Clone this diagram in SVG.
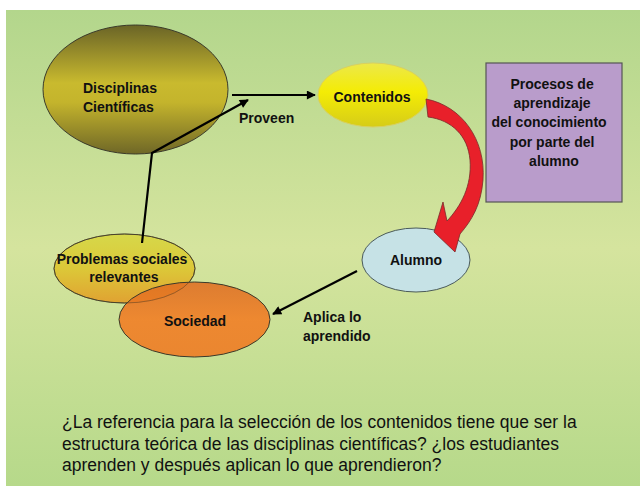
<svg xmlns="http://www.w3.org/2000/svg" width="640" height="486" viewBox="0 0 640 486">
  <defs>
    <linearGradient id="bg" x1="0" y1="0" x2="0" y2="1">
      <stop offset="0" stop-color="#b3d68c"/>
      <stop offset="0.5" stop-color="#d5e49e"/>
      <stop offset="1" stop-color="#b6d98a"/>
    </linearGradient>
    <linearGradient id="gDisc" x1="0" y1="0" x2="0" y2="1">
      <stop offset="0" stop-color="#6a6427"/>
      <stop offset="0.45" stop-color="#c9ba2e"/>
      <stop offset="0.6" stop-color="#c4b42c"/>
      <stop offset="1" stop-color="#6f6727"/>
    </linearGradient>
    <linearGradient id="gCont" x1="0" y1="0" x2="0" y2="1">
      <stop offset="0" stop-color="#ece84a"/>
      <stop offset="0.45" stop-color="#f4ec05"/>
      <stop offset="1" stop-color="#d6cc18"/>
    </linearGradient>
    <linearGradient id="gProb" x1="0" y1="0" x2="0" y2="1">
      <stop offset="0" stop-color="#d6d84a"/>
      <stop offset="0.5" stop-color="#dcc838"/>
      <stop offset="1" stop-color="#e0a232"/>
    </linearGradient>
    <linearGradient id="gSoc" x1="0" y1="0" x2="0" y2="1">
      <stop offset="0" stop-color="#de6e22"/>
      <stop offset="0.5" stop-color="#f27c22"/>
      <stop offset="1" stop-color="#ef7a22"/>
    </linearGradient>
    <marker id="ah" viewBox="0 0 10 10" refX="9" refY="5" markerWidth="11" markerHeight="9" markerUnits="userSpaceOnUse" orient="auto">
      <path d="M0,0 L10,5 L0,10 Z" fill="#000"/>
    </marker>
    <style>
      .lbl { font-family: "Liberation Sans", Arial, sans-serif; font-weight: bold; font-size: 14px; fill: #111; }
      .q { font-family: "Liberation Sans", Arial, sans-serif; font-size: 17.5px; fill: #111; }
      .node { stroke: #3a3a2a; stroke-width: 1; }
      .conn { fill: none; stroke: #000; stroke-width: 2.2; marker-end: url(#ah); }
    </style>
  </defs>

  <rect x="0" y="0" width="640" height="486" fill="#ffffff"/>
  <rect x="6" y="10" width="634" height="476" fill="url(#bg)"/>

  <g id="node-disciplinas">
    <ellipse class="node" cx="135.5" cy="89.5" rx="92.5" ry="64.5" fill="url(#gDisc)"/>
    <text class="lbl" x="83" y="93">Disciplinas</text>
    <text class="lbl" x="83" y="112">Científicas</text>
  </g>

  <g id="node-contenidos">
    <ellipse cx="373" cy="95" rx="55" ry="32" fill="url(#gCont)" stroke="#d8d060" stroke-width="1"/>
    <text class="lbl" x="372" y="102" text-anchor="middle">Contenidos</text>
  </g>

  <g id="node-procesos">
    <rect x="486" y="63" width="136" height="139" fill="#b99ccb" stroke="#555" stroke-width="1.2"/>
    <text class="lbl" text-anchor="middle" fill="#222">
      <tspan x="554" y="89">Procesos de</tspan>
      <tspan x="554" y="108">aprendizaje</tspan>
      <tspan x="551" y="127">del conocimiento</tspan>
      <tspan x="554" y="147">por parte del</tspan>
      <tspan x="554" y="166">alumno</tspan>
    </text>
  </g>

  <g id="node-alumno">
    <ellipse cx="416" cy="260" rx="54" ry="32" fill="#c6e2e6" stroke="#4a5a5a" stroke-width="1"/>
    <text class="lbl" x="416" y="265" text-anchor="middle">Alumno</text>
  </g>

  <g id="node-problemas">
    <ellipse class="node" cx="124.5" cy="268.5" rx="70.5" ry="34.5" fill="url(#gProb)"/>
  </g>

  <g id="node-sociedad">
    <ellipse class="node" cx="194.5" cy="319.5" rx="75.5" ry="37.5" fill="url(#gSoc)" fill-opacity="0.88"/>
    <ellipse cx="124.5" cy="268.5" rx="70.5" ry="34.5" fill="none" stroke="#5a4a2a" stroke-width="0.8" stroke-opacity="0.6"/>
    <text class="lbl" x="195" y="326" text-anchor="middle">Sociedad</text>
  </g>

  <g id="label-problemas">
    <text class="lbl" x="122" y="264" text-anchor="middle" font-size="13.5">Problemas sociales</text>
    <text class="lbl" x="124" y="282" text-anchor="middle" font-size="13.5">relevantes</text>
  </g>

  <g id="connectors">
    <path class="conn" d="M232,95 L315,95"/>
    <path class="conn" d="M142,243 L152,153 L248,100" stroke-linejoin="miter"/>
    <path class="conn" d="M357,271 L273,314"/>
    <path d="M426,99 C462,106 486,140 483,180 C481,205 472,220 460,234 L455,252 L434,232 L443,202 L447,221 C461,206 472,186 470,160 C468,136 452,120 428,117 Z" fill="#e8202a" stroke="#7a2a2a" stroke-width="0.8"/>
  </g>

  <g id="edge-labels">
    <text class="lbl" x="239" y="123" font-size="15">Proveen</text>
    <text class="lbl" x="303" y="322">Aplica lo</text>
    <text class="lbl" x="303" y="341">aprendido</text>
  </g>

  <g id="question">
    <text class="q" x="62" y="428">¿La referencia para la selección de los contenidos tiene que ser la</text>
    <text class="q" x="62" y="450">estructura teórica de las disciplinas científicas? ¿los estudiantes</text>
    <text class="q" x="62" y="471">aprenden y después aplican lo que aprendieron?</text>
  </g>
</svg>
